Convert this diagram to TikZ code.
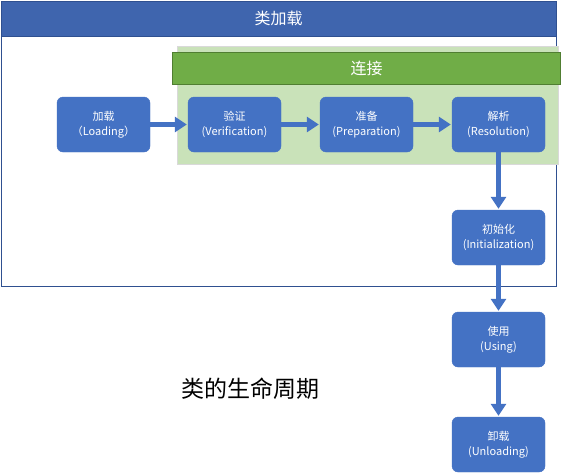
\documentclass[tikz,border=0pt]{standalone}
\usepackage{fontspec}
\setmainfont{Noto Sans CJK SC}
\usetikzlibrary{arrows.meta}
\definecolor{boxblue}{HTML}{4472C4}
\definecolor{hdrblue}{HTML}{3F65AE}
\definecolor{frameblue}{HTML}{2F5090}
\definecolor{grn}{HTML}{70AD47}
\definecolor{grndark}{HTML}{507E32}
\definecolor{lgrn}{HTML}{C9E2B9}
\tikzset{
  stepbox/.style={draw=boxblue, fill=boxblue, rounded corners=6pt, minimum width=93pt, minimum height=55pt, text=white, font=\fontsize{11}{15}\selectfont, align=center, inner sep=0pt},
  flow/.style={draw=boxblue, line width=4.5pt, -{Triangle[length=12pt,width=15pt]}, shorten >=1pt}
}
\begin{document}
\begin{tikzpicture}[x=1pt,y=-1pt]
\useasboundingbox (0,0) rectangle (570,474);
\fill[white] (0,0) rectangle (570,474);
% outer frame
\draw[frameblue, line width=1pt] (1,1) rectangle (556,286);
\node[fill=hdrblue, draw=frameblue, minimum width=555pt, minimum height=35pt, inner sep=0pt, anchor=north west, text=white, font=\fontsize{16}{18}\selectfont] (hdr) at (1,1) {类加载};
% link panel
\node[fill=lgrn, draw=black!15, minimum width=381pt, minimum height=118pt, inner sep=0pt, anchor=north west] (panel) at (177,46) {};
\node[fill=grn, draw=grndark, line width=1pt, minimum width=388pt, minimum height=32pt, inner sep=0pt, anchor=north west, text=white, font=\fontsize{16}{18}\selectfont] (link) at (172,52) {连接};
% boxes
\node[stepbox] (load) at (103.5,124.5) {加载\\（Loading）};
\node[stepbox] (ver) at (234.5,124.5) {验证\\(Verification)};
\node[stepbox] (prep) at (366.5,124.5) {准备\\(Preparation)};
\node[stepbox] (res) at (498.5,124.5) {解析\\(Resolution)};
\node[stepbox] (init) at (498.5,237.5) {初始化\\(Initialization)};
\node[stepbox] (use) at (498.5,339.5) {使用\\(Using)};
\node[stepbox] (unl) at (498.5,444.5) {卸载\\(Unloading)};
% arrows
\draw[flow] (load) -- (ver);
\draw[flow] (ver) -- (prep);
\draw[flow] (prep) -- (res);
\draw[flow] (res) -- (init);
\draw[flow] (init) -- (use);
\draw[flow] (use) -- (unl);
% title
\node[font=\fontsize{23}{26}\selectfont] (title) at (250,389) {类的生命周期};
\end{tikzpicture}
\end{document}
